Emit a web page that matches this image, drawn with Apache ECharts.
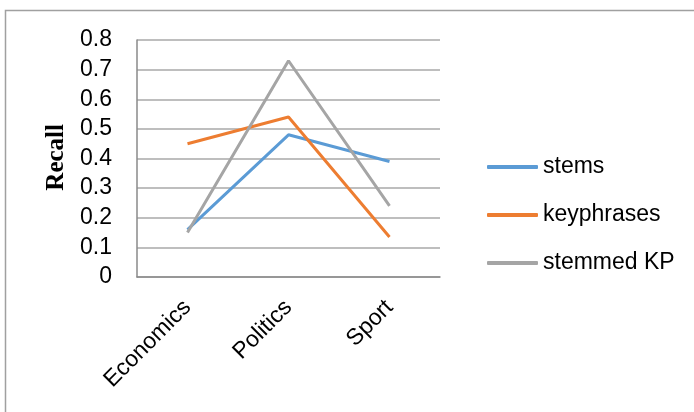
<!DOCTYPE html>
<html>
<head>
<meta charset="utf-8">
<script src="https://cdn.jsdelivr.net/npm/echarts@6/dist/echarts.min.js"></script>
<style>
  html, body { margin: 0; padding: 0; background: #fff; }
  #chart { width: 694px; height: 412px; }
</style>
</head>
<body>
<div id="chart"></div>
<script>
// Recall per news category
const categories = ['Economics', 'Politics', 'Sport'];
const stems = [0.16, 0.48, 0.39];
const keyphrases = [0.45, 0.54, 0.135];
const stemmedKP = [0.15, 0.73, 0.24];
const yTickLabels = ['0', '0.1', '0.2', '0.3', '0.4', '0.5', '0.6', '0.7', '0.8'];

const FONT = '"Liberation Sans", Arial, sans-serif';
const chart = echarts.init(document.getElementById('chart'), null, { renderer: 'canvas' });

chart.setOption({
  animation: false,
  backgroundColor: '#ffffff',
  color: ['#5B9BD5', '#ED7D31', '#A5A5A5'],
  graphic: [{
    type: 'rect',
    shape: { x: 5.5, y: 10.5, width: 900, height: 600 },
    style: { fill: 'none', stroke: '#a0a0a0', lineWidth: 1.5 },
    silent: true
  }, {
    type: 'text',
    left: 44,
    top: 124,
    rotation: Math.PI / 2,
    style: {
      text: 'Recall',
      font: 'bold 25px "Liberation Serif", "Times New Roman", serif',
      fill: '#000'
    }
  }],
  grid: { left: 137, right: 254, top: 40, bottom: 135, containLabel: false },
  legend: {
    orient: 'vertical',
    left: 482,
    top: 150,
    itemWidth: 51,
    itemHeight: 4,
    itemGap: 24,
    icon: 'roundRect',
    textStyle: { fontFamily: FONT, fontSize: 23, color: '#000', lineHeight: 24 },
    data: ['stems', 'keyphrases', 'stemmed KP']
  },
  xAxis: {
    type: 'category',
    data: categories,
    boundaryGap: true,
    axisLine: { lineStyle: { color: '#8a8a8a', width: 1.5 } },
    axisTick: { show: false },
    axisLabel: {
      rotate: 45,
      margin: 27,
      fontFamily: FONT,
      fontSize: 23,
      color: '#000'
    }
  },
  yAxis: {
    type: 'value',
    min: 0,
    max: 0.8,
    interval: 0.1,
    axisLine: { show: true, lineStyle: { color: '#8a8a8a', width: 1.5 } },
    axisTick: { show: false },
    splitLine: { lineStyle: { color: '#a8a8a8', width: 1.5 } },
    axisLabel: {
      margin: 25,
      fontFamily: FONT,
      fontSize: 23,
      color: '#000',
      formatter: (v) => yTickLabels[Math.round(v * 10)]
    }
  },
  series: [
    { name: 'stems', type: 'line', data: stems, symbol: 'none', lineStyle: { width: 3 } },
    { name: 'keyphrases', type: 'line', data: keyphrases, symbol: 'none', lineStyle: { width: 3 } },
    { name: 'stemmed KP', type: 'line', data: stemmedKP, symbol: 'none', lineStyle: { width: 3 } }
  ]
});
</script>
</body>
</html>
